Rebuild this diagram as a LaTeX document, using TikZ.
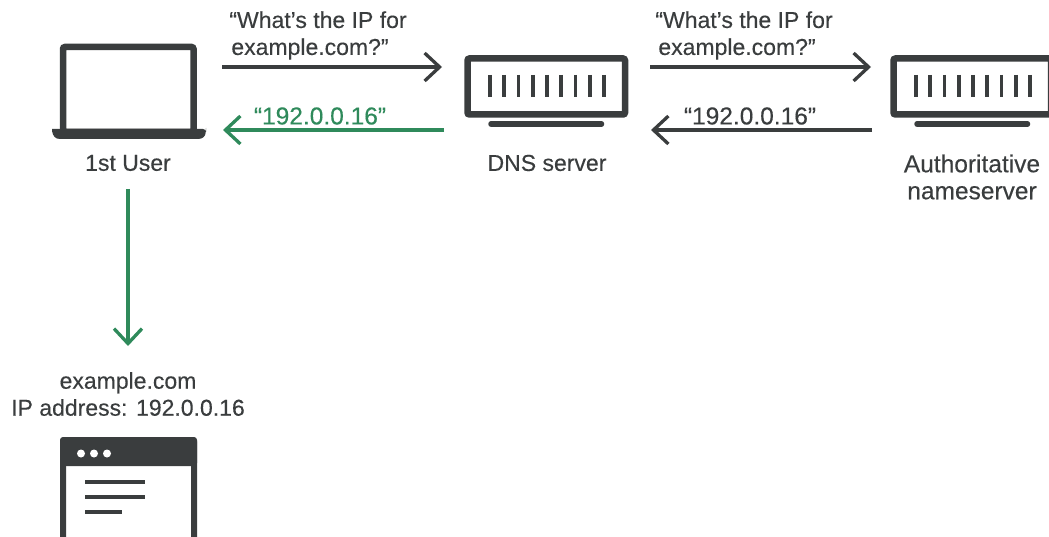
\documentclass[tikz,border=0pt]{standalone}
\usepackage{fontspec}
\setmainfont{Liberation Sans}[FakeBold=0.3]
\usetikzlibrary{arrows.meta}
\definecolor{ink}{HTML}{3A3D3E}
\definecolor{leaf}{HTML}{2F8A5B}
\tikzset{
  x=1pt,y=-1pt,
  label text/.style={text=ink,font=\fontsize{23}{28}\selectfont,align=center,inner sep=0pt},
  wide text/.style={label text,font=\fontsize{24.5}{28}\selectfont},
  green text/.style={wide text,text=leaf},
  flow/.style={line width=3.3pt,draw=ink,-{Straight Barb[length=15pt,width=28pt,line width=3.3pt]}},
  green flow/.style={flow,draw=leaf},
  frame/.style={draw=ink,line width=6.5pt,fill=white,rounded corners=2pt},
  bar/.style={draw=ink,line width=3.6pt},
  foot/.style={draw=ink,line width=5.5pt,line cap=round},
  textline/.style={draw=ink,line width=3.5pt}
}
\newcommand{\serverglyph}[1]{%
  \begin{scope}[shift={(#1,0)}]
    \draw[frame] (3.5,58.5) rectangle (161,114.5);
    \foreach \i in {0,...,8} \draw[bar] (26+\i*14.25,75) -- (26+\i*14.25,97);
    \draw[foot] (27,124) -- (137.5,124);
  \end{scope}}
\begin{document}
\begin{tikzpicture}
\useasboundingbox (0,0) rectangle (1049,537);
\clip (0,0) rectangle (1049,537);
% laptop
\draw[frame] (63,47) rectangle (193.5,132);
\fill[ink,rounded corners=3pt] (52,129) -- (206,129) -- (206,131) [sharp corners] .. controls (205,136) and (203,139) .. (198,139) -- (60,139) .. controls (55,139) and (53,136) .. (52,131) -- cycle;
% servers
\serverglyph{464}
\serverglyph{890}
% browser
\draw[frame,line width=6pt] (63,440) rectangle (194,560);
\fill[ink,rounded corners=3pt] (60,437) rectangle (197,466);
\fill[ink] (60,450) rectangle (197,466);
\foreach \px in {81,94,107} \fill[white] (\px,453.5) circle (4);
\draw[textline] (85,482) -- (145,482);
\draw[textline] (85,497) -- (145,497);
\draw[textline] (85,512) -- (122,512);
% labels
\node[label text] (q1) at (318,35.5) {“What’s the IP for\\[-1pt]example.com?”\hspace*{16pt}};
\node[label text] (q2) at (744,35.5) {“What’s the IP for\\[-1pt]example.com?”\hspace*{14pt}};
\node[green text] (a1) at (320,116) {“192.0.0.16”};
\node[wide text] (a2) at (750,116) {“192.0.0.16”};
\node[label text] (user) at (128,163) {1st User};
\node[label text] (dns) at (547,163) {DNS server};
\node[wide text] (auth) at (972,177) {Authoritative\\[-1pt]nameserver};
\node[label text] (site) at (128,394) {example.com\\[-1pt]IP address: 192.0.0.16};
% connectors
\coordinate (c1s) at (222,67); \coordinate (c1e) at (442,67);
\coordinate (c2s) at (650,67); \coordinate (c2e) at (871,67);
\coordinate (c3s) at (872,130); \coordinate (c3e) at (651,130);
\coordinate (c4s) at (444,130); \coordinate (c4e) at (223,130);
\coordinate (c5s) at (128,189); \coordinate (c5e) at (128,346);
\draw[flow] (c1s) -- (c1e);
\draw[flow] (c2s) -- (c2e);
\draw[flow] (c3s) -- (c3e);
\draw[green flow] (c4s) -- (c4e);
\draw[green flow] (c5s) -- (c5e);
\end{tikzpicture}
\end{document}
